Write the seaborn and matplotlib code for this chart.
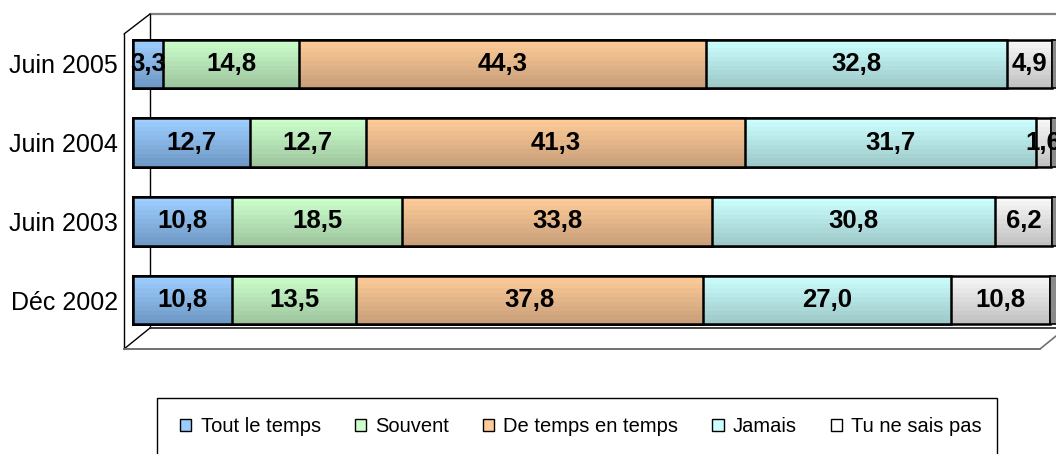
import numpy as np
import pandas as pd
import matplotlib
matplotlib.use("Agg")
import matplotlib.pyplot as plt
from matplotlib.colors import LinearSegmentedColormap
from matplotlib.lines import Line2D
from matplotlib.patches import Patch, Rectangle
import seaborn as sns

# Survey answers (%) per period
periods = ["Juin 2005", "Juin 2004", "Juin 2003", "Déc 2002"]
tout_le_temps = [3.3, 12.7, 10.8, 10.8]
souvent = [14.8, 12.7, 18.5, 13.5]
de_temps_en_temps = [44.3, 41.3, 33.8, 37.8]
jamais = [32.8, 31.7, 30.8, 27.0]
ne_sais_pas = [4.9, 1.6, 6.2, 10.8]

series_names = ["Tout le temps", "Souvent", "De temps en temps", "Jamais", "Tu ne sais pas"]
series_values = [tout_le_temps, souvent, de_temps_en_temps, jamais, ne_sais_pas]

# gradient colours, top -> bottom of each bar
top_colors = ["#9ECFFF", "#CCFFCC", "#FFCC99", "#CCFFFF", "#F8F8F8"]
bottom_colors = ["#6F99C6", "#9FC69F", "#C9A07A", "#9EC9C9", "#C2C2C2"]
legend_colors = ["#99CCFF", "#CCFFCC", "#FFCC99", "#CCFFFF", "#FFFFFF"]

sns.set_theme(style="white")
plt.rcParams["font.family"] = ["Liberation Sans", "DejaVu Sans"]
plt.rcParams["text.color"] = "black"

W, H = 1056, 454
fig = plt.figure(figsize=(W / 100, H / 100), dpi=100)

def fx(px):
    return px / W

def fy(py):
    return 1 - py / H

ax = fig.add_axes([fx(124), fy(350), fx(1056) - fx(124), fy(14) - fy(350)])

df = pd.DataFrame({"period": periods})
values = np.array(series_values)
cum = np.cumsum(values, axis=0)
starts = cum - values

bar_width = 0.62
n_bands = 11
# draw cumulative totals from longest to shortest so each segment sits on top
for k in range(len(series_names) - 1, -1, -1):
    df["total"] = cum[k]
    before = len(ax.patches)
    sns.barplot(data=df, x="total", y="period", orient="h", color=legend_colors[k],
                width=bar_width, ax=ax, saturation=1)
    new = ax.patches[before:]
    z = 2 + 2 * (len(series_names) - 1 - k)
    cmap = LinearSegmentedColormap.from_list("g", [top_colors[k], bottom_colors[k]])
    grad = cmap(np.linspace(0, 1, n_bands))[:, None, :3]
    for p in new:
        x0, y0 = p.get_x(), p.get_y()
        w, h = p.get_width(), p.get_height()
        p.set_facecolor("none")
        p.set_edgecolor("black")
        p.set_linewidth(1.8)
        p.set_zorder(z + 1)
        im = ax.imshow(grad, extent=[x0, x0 + w, y0 + h, y0], aspect="auto",
                       interpolation="nearest", zorder=z)
        im.set_clip_path(p)

# grey end caps of the cylinders
totals = cum[-1]
for i, t in enumerate(totals):
    ax.add_patch(Rectangle((t, i - bar_width / 2), 0.9, bar_width, facecolor="#8A8A8A",
                           edgecolor="black", lw=1.2, zorder=20))

# value labels
for k in range(len(series_names)):
    for i in range(len(periods)):
        v = values[k, i]
        ax.text(starts[k, i] + v / 2, i, f"{v:.1f}".replace(".", ","), ha="center",
                va="center", fontsize=18.5, fontweight="bold", color="black", zorder=30)

ax.set_xlim(-9 / 9.18, (1056 - 133) / 9.18)
ax.set_ylim(3 + 50 / 78.67, -50 / 78.67)
ax.set_xlabel("")
ax.set_ylabel("")
ax.set_xticks([])
ax.tick_params(axis="y", length=0, pad=4.3, labelsize=18, labelcolor="black")
for s in ax.spines.values():
    s.set_visible(False)
ax.patch.set_alpha(0)

# 3D box walls and floor
frame = [
    ((150, 14), (1056, 14), "#808080", 1.6),
    ((124, 34), (150, 14), "black", 1.0),
    ((124, 34), (124, 349), "black", 1.0),
    ((150, 14), (150, 328), "black", 1.0),
    ((150, 328), (1056, 328), "#404040", 1.4),
    ((124, 349), (150, 328), "black", 1.0),
    ((124, 349), (1040, 349), "#707070", 1.4),
    ((1040, 349), (1056, 336), "#707070", 1.2),
]
for (x1, y1), (x2, y2), c, lw in frame:
    ax.add_line(Line2D([fx(x1), fx(x2)], [fy(y1), fy(y2)], transform=fig.transFigure,
                       color=c, lw=lw, clip_on=False, zorder=0.5))

# legend box
fig.add_artist(Rectangle((fx(157), fy(470)), fx(997) - fx(157), fy(398) - fy(470),
                         transform=fig.transFigure, fill=False, edgecolor="black", lw=1.0))
handles = [Patch(facecolor=c, edgecolor="black", linewidth=1.0) for c in legend_colors]
leg = fig.legend(handles, series_names, loc="center", bbox_to_anchor=(fx(581), fy(427)),
                 ncol=5, frameon=False, fontsize=14.5, handlelength=0.55, handleheight=0.55,
                 handletextpad=0.45, columnspacing=1.7, borderpad=0)
for t in leg.get_texts():
    t.set_color("black")

fig.savefig("out.png", dpi=100)
